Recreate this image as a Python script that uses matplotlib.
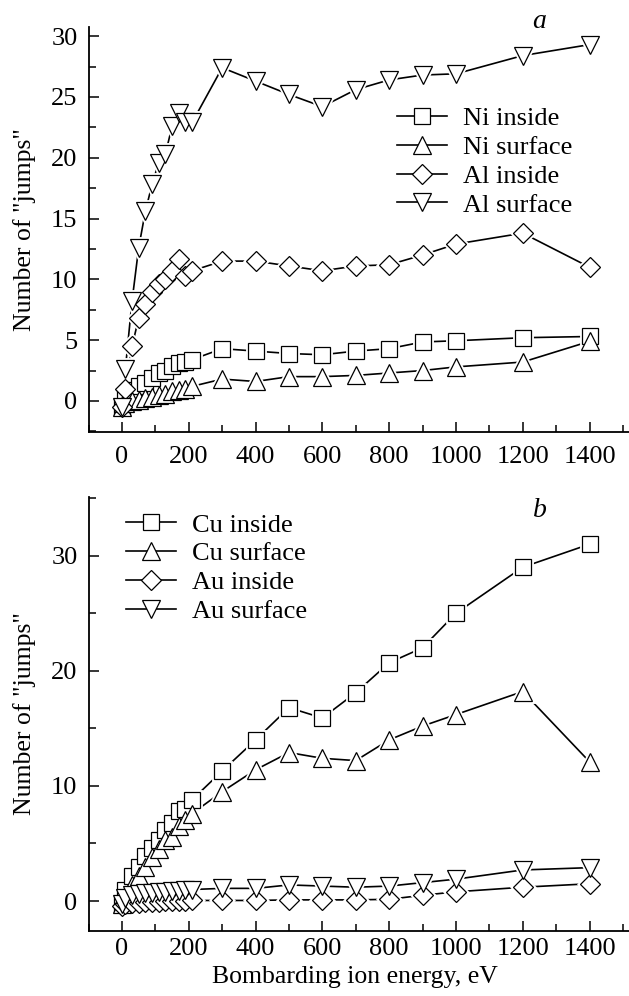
import numpy as np
import matplotlib
matplotlib.use("Agg")
import matplotlib.pyplot as plt
from matplotlib.ticker import MultipleLocator

plt.rcParams['font.family'] = ['Liberation Serif', 'DejaVu Serif']
plt.rcParams['font.size'] = 18

# energies (eV)
energy = [0, 10, 30, 50, 70, 90, 110, 130, 150, 170, 190, 210,
          300, 400, 500, 600, 700, 800, 900, 1000, 1200, 1400]

# panel a
ni_inside = [-0.5, 0.4, 0.9, 1.2, 1.5, 1.9, 2.3, 2.5, 2.9, 3.1, 3.2, 3.4,
             4.3, 4.1, 3.9, 3.8, 4.1, 4.3, 4.85, 4.95, 5.2, 5.3]
ni_surface = [-0.5, -0.2, 0.0, 0.1, 0.25, 0.35, 0.5, 0.6, 0.8, 0.9, 1.0, 1.2,
              1.8, 1.6, 2.0, 2.0, 2.1, 2.3, 2.5, 2.8, 3.2, 4.9]
al_inside = [-0.5, 1.0, 4.5, 6.8, 8.0, 9.0, 9.6, 10.0, 10.7, 11.7, 10.3, 10.7,
             11.5, 11.5, 11.1, 10.7, 11.1, 11.2, 12.0, 12.9, 13.8, 11.0]
al_surface = [-0.5, 2.6, 8.2, 12.6, 15.6, 17.8, 19.6, 20.3, 22.6, 23.7, 22.9, 22.9,
              27.4, 26.3, 25.2, 24.2, 25.6, 26.4, 26.8, 26.9, 28.4, 29.3]

# panel b
cu_inside = [-0.3, 1.0, 2.2, 3.0, 3.9, 4.6, 5.3, 6.2, 6.8, 7.8, 8.0, 8.8,
             11.3, 14.0, 16.8, 15.9, 18.1, 20.7, 22.0, 25.0, 29.0, 31.0]
cu_surface = [-0.3, 0.5, 1.4, 2.2, 3.0, 3.8, 4.5, 5.3, 5.6, 6.5, 7.0, 7.6,
              9.5, 11.4, 12.9, 12.4, 12.2, 14.0, 15.2, 16.2, 18.2, 12.1]
au_inside = [-0.4, -0.3, -0.2, -0.2, -0.1, -0.1, -0.1, 0.0, 0.0, 0.0, 0.0, 0.05,
             0.05, 0.05, 0.1, 0.1, 0.1, 0.15, 0.5, 0.8, 1.2, 1.5]
au_surface = [-0.3, 0.3, 0.5, 0.6, 0.7, 0.7, 0.8, 0.8, 0.9, 0.9, 1.0, 1.0,
              1.1, 1.1, 1.4, 1.3, 1.2, 1.3, 1.6, 1.9, 2.7, 2.9]

markers = ['s', '^', 'D', 'v']
msizes = [11, 12.5, 10, 12.5]

fig = plt.figure(figsize=(6.29, 9.96), dpi=100)
ax_a = fig.add_axes([88.6 / 629, 0.5663, 541 / 629, 0.4066])
ax_b = fig.add_axes([88.6 / 629, 0.0653, 541 / 629, 0.4357])


def draw_series(ax, y, m, ms, label):
    ax.plot(energy, y, '-', color='black', lw=1.2, zorder=2)
    # white halo so lines stop short of the markers
    ax.plot(energy, y, m, ms=ms, mfc='white', mec='white', mew=3.5, ls='none', zorder=3)
    ax.plot(energy, y, m, ms=ms, mfc='white', mec='black', mew=0.9, ls='none', zorder=4)
    # legend proxy
    ax.plot([], [], '-', marker=m, ms=ms, mfc='white', mec='black', mew=0.9,
            color='black', lw=1.2, label=label)


def style(ax, xpad):
    for s in ['top', 'right']:
        ax.spines[s].set_visible(False)
    for s in ['left', 'bottom']:
        ax.spines[s].set_linewidth(1.3)
    ax.set_xlim(-100, 1520)
    ax.xaxis.set_major_locator(MultipleLocator(200))
    ax.xaxis.set_minor_locator(MultipleLocator(100))
    ax.tick_params(which='both', direction='in', width=1.1, labelsize=19)
    ax.tick_params(which='major', length=7)
    ax.tick_params(which='minor', length=5)
    ax.tick_params(axis='x', pad=xpad)
    ax.tick_params(axis='y', pad=8)
    ax.set_ylabel('Number of "jumps"', fontsize=18.5)
    ax.yaxis.set_label_coords(-0.097, 0.5)


for y, m, ms, lab in zip([ni_inside, ni_surface, al_inside, al_surface], markers, msizes,
                         ['Ni inside', 'Ni surface', 'Al inside', 'Al surface']):
    draw_series(ax_a, y, m, ms, lab)
style(ax_a, 10)
ax_a.set_ylim(-2.55, 30.75)
ax_a.yaxis.set_major_locator(MultipleLocator(5))
ax_a.yaxis.set_minor_locator(MultipleLocator(2.5))
ax_a.text(1250, 31.2, 'a', style='italic', fontsize=20, ha='center', va='center', clip_on=False)
ax_a.legend(loc='upper left', bbox_to_anchor=(0.546, 0.835), frameon=False, borderpad=0,
            handlelength=1.9, handletextpad=0.6, labelspacing=0.2, fontsize=19)

for y, m, ms, lab in zip([cu_inside, cu_surface, au_inside, au_surface], markers, msizes,
                         ['Cu inside', 'Cu surface', 'Au inside', 'Au surface']):
    draw_series(ax_b, y, m, ms, lab)
style(ax_b, 5)
ax_b.set_ylim(-2.6, 35.1)
ax_b.yaxis.set_major_locator(MultipleLocator(10))
ax_b.yaxis.set_minor_locator(MultipleLocator(5))
ax_b.text(1250, 33.9, 'b', style='italic', fontsize=20, ha='center', va='center')
ax_b.legend(loc='upper left', bbox_to_anchor=(0.044, 0.993), frameon=False, borderpad=0,
            handlelength=1.9, handletextpad=0.6, labelspacing=0.2, fontsize=19)
ax_b.set_xlabel('Bombarding ion energy, eV', fontsize=18.5)
ax_b.xaxis.set_label_coords(0.492, -0.08)

fig.savefig('out.png', dpi=100)
